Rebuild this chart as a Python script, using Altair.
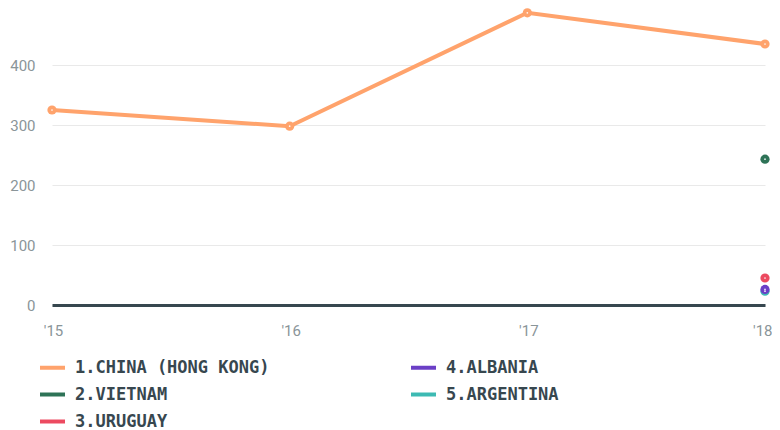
import altair as alt
import pandas as pd

years = ["'15", "'16", "'17", "'18"]
series = ["1.CHINA (HONG KONG)", "2.VIETNAM", "3.URUGUAY", "4.ALBANIA", "5.ARGENTINA"]
colors = ["#ffa36c", "#2e7357", "#ec4a60", "#6b3fc6", "#3dbab3"]

china = [325, 298, 487, 435]
vietnam = [None, None, None, 243]
uruguay = [None, None, None, 45]
argentina = [None, None, None, 23]
albania = [None, None, None, 26]

# drawing order: later series on top
draw_order = [
    ("1.CHINA (HONG KONG)", china),
    ("2.VIETNAM", vietnam),
    ("5.ARGENTINA", argentina),
    ("4.ALBANIA", albania),
    ("3.URUGUAY", uruguay),
]
rows = []
for name, vals in draw_order:
    for y, v in zip(years, vals):
        rows.append({"year": y, "country": name, "value": v})
df = pd.DataFrame(rows)
pts = df.dropna()

last = years[-1]
x = alt.X("year:O", sort=years, title=None,
          scale=alt.Scale(type="point", padding=0),
          axis=alt.Axis(labelAngle=0, domain=True, domainColor="#37474f", domainWidth=3,
                        ticks=False, grid=False, labelPadding=18, labelFont="Roboto",
                        labelFontSize=15, labelColor="#8a9599",
                        labelAlign=alt.ExprRef(f"datum.label == \"{last}\" ? 'right' : 'center'"),
                        labelOffset=alt.ExprRef(f"datum.label == \"{last}\" ? 7 : 1")))
y = alt.Y("value:Q", title=None,
          scale=alt.Scale(domain=[0, 495], nice=False, zero=True),
          axis=alt.Axis(values=[0, 100, 200, 300, 400], domain=False, ticks=False,
                        gridColor="#e9e9e9", gridWidth=1, labelPadding=17,
                        labelFont="Roboto", labelFontSize=15, labelColor="#8a9599"))

color_scale = alt.Scale(domain=series, range=colors)

lines = alt.Chart(df).mark_line(strokeWidth=4).encode(
    x=x, y=y,
    color=alt.Color("country:N", scale=color_scale, title=None,
                    legend=alt.Legend(orient="none", legendX=-14, legendY=345,
                                      columns=2, columnPadding=133, rowPadding=4,
                                      symbolType="stroke", symbolStrokeWidth=4,
                                      symbolSize=625, labelOffset=8, padding=0,
                                      labelFont="DejaVu Sans Mono", labelFontWeight="bold",
                                      labelFontSize=17, labelColor="#37474f",
                                      labelLimit=400)),
)
points = alt.Chart(pts).mark_point(filled=True, size=85, opacity=1).encode(
    x=x, y=y,
    color=alt.Color("country:N", scale=color_scale, legend=None),
)
centers = alt.Chart(pts).mark_point(filled=True, size=3, opacity=0.9, color="white").encode(
    x=x, y=y,
)

chart = alt.layer(lines, points, centers).properties(
    width=713, height=297,
    autosize=alt.AutoSizeParams(type="none"),
    padding={"left": 44, "top": 0, "right": 7, "bottom": 124},
).configure_view(stroke=None)

chart.save("out.html", embed_options={"renderer": "svg", "actions": False})
